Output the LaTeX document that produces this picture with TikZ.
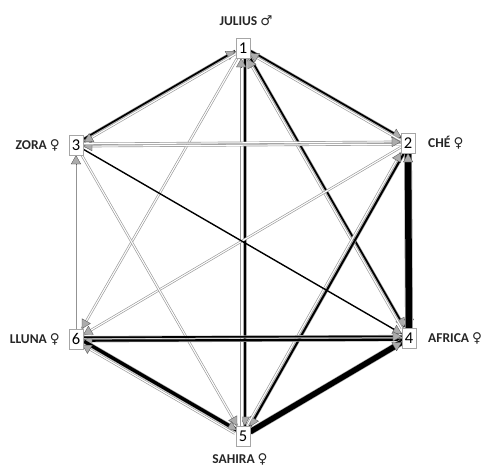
\documentclass[tikz,border=0pt]{standalone}
\usepackage{fontspec}
\setmainfont{Carlito}
\newfontfamily\symfont{DejaVu Sans}
\usetikzlibrary{calc,arrows.meta}
\pgfdeclarelayer{bg}
\pgfsetlayers{bg,main}
\tikzset{
  box/.style={draw=gray!70, fill=white, minimum width=14pt, minimum height=20pt, inner sep=0pt, font=\fontsize{16.5}{16.5}\selectfont},
  lab/.style={font=\fontsize{13.5}{15}\selectfont\bfseries, inner sep=0pt, text=black!85},
  weak/.style={draw=gray!80, line width=0.65pt, double=white, double distance=1.1pt},
  strong/.style={draw=gray!65, line width=0.6pt, double=black, double distance=#1},
  thinline/.style={draw=gray!85, line width=0.9pt},
  plain/.style={draw=black, line width=#1},
  headstyle/.style={draw=gray!60!black, line width=0.3pt, -{Triangle[length=9pt,width=10pt,fill=gray!65]}},
}
\newcommand\tie[4]{%
  \path (#1) -- (#2) coordinate[pos=0] (tS) coordinate[pos=1] (tE);
  \coordinate (tA) at ($(tS)!#3!90:(tE)$);
  \coordinate (tB) at ($(tE)!#3!-90:(tS)$);
  \draw[#4] (tA) -- (tB);
  \draw[headstyle] ($(tB)!9pt!(tA)$) -- (tB);
}
\begin{document}
\begin{tikzpicture}[x=1pt,y=-1pt]
\useasboundingbox (0,0) rectangle (486,466);
\node[box] (n1) at (243,48) {1};
\node[box] (n2) at (408,143) {2};
\node[box] (n3) at (76,145) {3};
\node[box] (n4) at (409,338) {4};
\node[box] (n5) at (243,436) {5};
\node[box] (n6) at (76,339) {6};
\node[lab] (l1) at (246,21) {JULIUS {\symfont\mdseries ♂}};
\node[lab, anchor=west] (l2) at (428,143) {CHÉ {\symfont\mdseries ♀}};
\node[lab, anchor=east] (l3) at (60,145) {ZORA {\symfont\mdseries ♀}};
\node[lab, anchor=west] (l4) at (428,338) {AFRICA {\symfont\mdseries ♀}};
\node[lab] (l5) at (240,459) {SAHIRA {\symfont\mdseries ♀}};
\node[lab, anchor=east] (l6) at (60,339) {LLUNA {\symfont\mdseries ♀}};
\begin{pgfonlayer}{bg}
% 1-3
\tie{n3}{n1}{1.4pt}{strong=1.7pt}
\tie{n1}{n3}{1.4pt}{weak}
% 1-2
\tie{n1}{n2}{1.4pt}{strong=1.7pt}
\tie{n2}{n1}{1.4pt}{weak}
% 1-4
\tie{n1}{n4}{1.4pt}{strong=1.7pt}
\tie{n4}{n1}{1.4pt}{weak}
% 1-5
\tie{n1}{n5}{1.8pt}{strong=2.6pt}
\tie{n5}{n1}{1.8pt}{weak}
% 1-6
\tie{n1}{n6}{0pt}{weak}
% 2-3
\tie{n2}{n3}{1.2pt}{weak}
\tie{n3}{n2}{1.2pt}{weak}
% 2-4
\tie{n2}{n4}{0pt}{strong=6.5pt}
\tie{n4}{n2}{0pt}{strong=6.5pt}
% 2-5
\tie{n2}{n5}{1.5pt}{strong=2pt}
\tie{n5}{n2}{1.5pt}{weak}
% 2-6
\tie{n2}{n6}{0pt}{weak}
% 3-4
\tie{n3}{n4}{0pt}{plain=1.4pt}
% 3-5
\tie{n3}{n5}{0pt}{weak}
% 3-6
\tie{n6}{n3}{0pt}{thinline}
% 4-6
\tie{n4}{n6}{1.7pt}{strong=2.2pt}
\tie{n6}{n4}{1.7pt}{strong=1.6pt}
% 4-5
\tie{n5}{n4}{0pt}{strong=5.5pt}
% 5-6
\tie{n6}{n5}{2pt}{strong=3.4pt}
\tie{n5}{n6}{2pt}{weak}
\end{pgfonlayer}
\end{tikzpicture}
\end{document}
